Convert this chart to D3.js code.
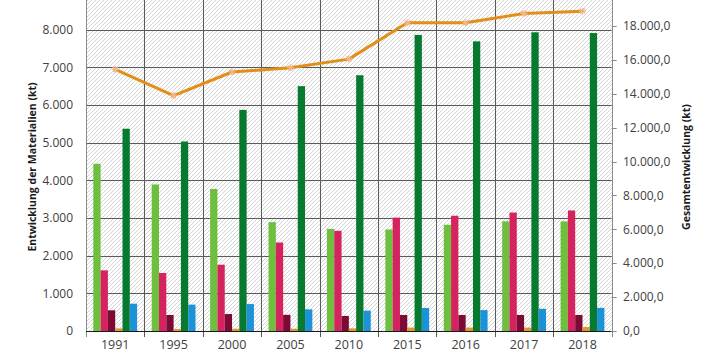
<!DOCTYPE html>
<html lang="de">
<head>
    <meta charset="UTF-8">
    <title>Entwicklung der Materialien</title>
    <script src="https://d3js.org/d3.v7.min.js"></script>
    <style>
        body { margin: 0; background: #fff; }
        svg { display: block; font-family: "Open Sans", sans-serif; }
    </style>
</head>
<body>
    <svg width="707" height="354"></svg>
    <script>
        // Data
        const years = ["1991", "1995", "2000", "2005", "2010", "2015", "2016", "2017", "2018"];
        const seriesKeys = ["s1", "s2", "s3", "s4", "s5", "s6"];
        const seriesColors = ["#6fbf3f", "#d4235f", "#7d0a35", "#e4952a", "#087a2f", "#1c93d6"];

        const s1 = [4440, 3890, 3770, 2890, 2710, 2695, 2820, 2910, 2910];
        const s2 = [1610, 1540, 1760, 2350, 2660, 3010, 3060, 3145, 3200];
        const s3 = [550, 425, 450, 430, 400, 425, 425, 425, 425];
        const s4 = [70, 50, 60, 60, 70, 90, 90, 90, 105];
        const s5 = [5370, 5030, 5870, 6500, 6790, 7860, 7690, 7930, 7910];
        const s6 = [725, 700, 715, 575, 540, 610, 555, 590, 615];
        const total = [15430, 13880, 15280, 15530, 16040, 18180, 18180, 18730, 18870];

        // the axes run to 9.000 / 20.000,0, just above the visible frame
        const leftMax = 9000, rightMax = 20000;
        const leftTicks = [0, 1000, 2000, 3000, 4000, 5000, 6000, 7000, 8000];
        const rightTicks = [0, 2000, 4000, 6000, 8000, 10000, 12000, 14000, 16000, 18000];

        const seriesValues = [s1, s2, s3, s4, s5, s6];

        const svg = d3.select("svg");
        const plotLeft = 86, plotRight = 611.7, plotTop = -8, plotBottom = 331;

        const x = d3.scaleBand().domain(years).range([plotLeft, plotRight]).padding(0);
        const xInner = d3.scaleBand().domain(seriesKeys).range([0, x.bandwidth()])
            .paddingInner(0).paddingOuter(1);
        const yL = d3.scaleLinear().domain([0, leftMax]).range([plotBottom, plotTop]);
        const yR = d3.scaleLinear().domain([0, rightMax]).range([plotBottom, plotTop]);

        // hatched plot background
        const defs = svg.append("defs");
        const pat = defs.append("pattern")
            .attr("id", "hatch")
            .attr("patternUnits", "userSpaceOnUse")
            .attr("width", 4).attr("height", 4);
        pat.append("rect").attr("width", 4).attr("height", 4).attr("fill", "#ffffff");
        pat.append("path")
            .attr("d", "M-1,1 l2,-2 M0,4 l4,-4 M3,5 l2,-2")
            .attr("stroke", "#d4d4d4").attr("stroke-width", 1);

        svg.append("rect")
            .attr("x", plotLeft).attr("y", plotTop)
            .attr("width", plotRight - plotLeft).attr("height", plotBottom - plotTop)
            .attr("fill", "url(#hatch)");

        // horizontal gridlines
        svg.append("g")
            .selectAll("line")
            .data(leftTicks.slice(1).concat([leftMax]))
            .join("line")
            .attr("x1", plotLeft).attr("x2", plotRight)
            .attr("y1", d => Math.round(yL(d)) + 0.5)
            .attr("y2", d => Math.round(yL(d)) + 0.5)
            .attr("stroke", "#5a5a5a").attr("stroke-width", 1);

        // vertical gridlines at category borders (with ticks below the axis)
        const borders = years.map(y => x(y)).concat([plotRight]);
        svg.append("g")
            .selectAll("line")
            .data(borders)
            .join("line")
            .attr("x1", d => Math.round(d) + 0.5).attr("x2", d => Math.round(d) + 0.5)
            .attr("y1", plotTop).attr("y2", plotBottom + 6)
            .attr("stroke", (d, i) => (i === 0 || i === borders.length - 1) ? "#8a8a8a" : "#5a5a5a")
            .attr("stroke-width", 1);

        // bars
        const groups = svg.append("g")
            .selectAll("g")
            .data(years)
            .join("g")
            .attr("transform", d => `translate(${x(d)},0)`);

        groups.selectAll("rect")
            .data((d, i) => seriesKeys.map((k, j) => ({ key: k, value: seriesValues[j][i], color: seriesColors[j] })))
            .join("rect")
            .attr("x", d => xInner(d.key))
            .attr("width", xInner.bandwidth())
            .attr("y", d => yL(d.value))
            .attr("height", d => plotBottom - yL(d.value))
            .attr("fill", d => d.color);

        // x axis line
        svg.append("line")
            .attr("x1", plotLeft).attr("x2", plotRight)
            .attr("y1", plotBottom + 0.5).attr("y2", plotBottom + 0.5)
            .attr("stroke", "#1a1a1a").attr("stroke-width", 1.2);

        // total line on right axis
        const cx = d => x(d) + x.bandwidth() / 2;
        const line = d3.line()
            .x((d, i) => cx(years[i]))
            .y(d => yR(d));

        svg.append("path")
            .datum(total)
            .attr("d", line)
            .attr("fill", "none")
            .attr("stroke", "#e0901a")
            .attr("stroke-width", 3)
            .attr("stroke-linejoin", "round");

        const markers = svg.append("g")
            .selectAll("g")
            .data(total)
            .join("g")
            .attr("transform", (d, i) => `translate(${cx(years[i])},${yR(d)})`);
        markers.append("path")
            .attr("d", "M-3.5,0 H3.5 M0,-3.5 V3.5 M-2.5,-2.5 L2.5,2.5 M-2.5,2.5 L2.5,-2.5")
            .attr("stroke", "#f3b58a")
            .attr("stroke-width", 1.2);

        // left axis labels
        svg.append("g")
            .selectAll("text")
            .data(leftTicks)
            .join("text")
            .attr("x", 73)
            .attr("y", d => yL(d))
            .attr("dy", "0.35em")
            .attr("text-anchor", "end")
            .attr("font-size", 12)
            .attr("fill", "#404040")
            .text(d => d3.format(",")(d).replace(/,/g, "."));

        // right axis ticks and labels
        svg.append("g")
            .selectAll("line")
            .data(rightTicks.concat([rightMax]))
            .join("line")
            .attr("x1", plotRight).attr("x2", plotRight + 5)
            .attr("y1", d => Math.round(yR(d)) + 0.5)
            .attr("y2", d => Math.round(yR(d)) + 0.5)
            .attr("stroke", "#8a8a8a");

        const fmtR = d => d3.format(",.1f")(d).replace(/,/g, "X").replace(/\./g, ",").replace(/X/g, ".");
        svg.append("g")
            .selectAll("text")
            .data(rightTicks)
            .join("text")
            .attr("x", 623)
            .attr("y", d => yR(d))
            .attr("dy", "0.35em")
            .attr("text-anchor", "start")
            .attr("font-size", 12)
            .attr("fill", "#404040")
            .text(fmtR);

        // year labels
        svg.append("g")
            .selectAll("text")
            .data(years)
            .join("text")
            .attr("x", d => cx(d))
            .attr("y", 349)
            .attr("text-anchor", "middle")
            .attr("font-size", 12.5)
            .attr("fill", "#404040")
            .text(d => d);

        // axis titles
        svg.append("text")
            .attr("transform", "translate(36,167) rotate(-90)")
            .attr("text-anchor", "middle")
            .attr("font-size", 10.5)
            .attr("font-weight", "bold")
            .attr("fill", "#1a1a1a")
            .text("Entwicklung der Materialien (kt)");

        svg.append("text")
            .attr("transform", "translate(690,167) rotate(-90)")
            .attr("text-anchor", "middle")
            .attr("font-size", 10.5)
            .attr("font-weight", "bold")
            .attr("fill", "#1a1a1a")
            .text("Gesamtentwicklung (kt)");
    </script>
</body>
</html>
